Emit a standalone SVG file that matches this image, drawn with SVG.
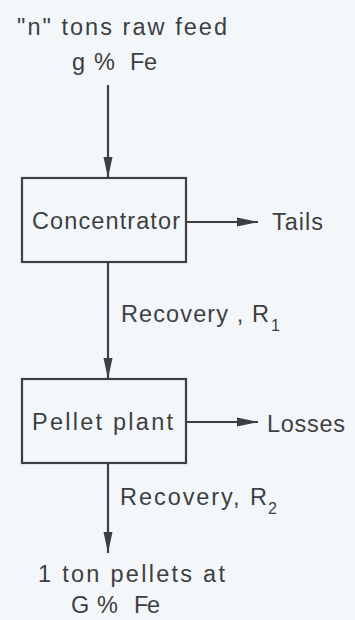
<svg xmlns="http://www.w3.org/2000/svg" width="355" height="620" viewBox="0 0 355 620">
<style>
text{font-family:"Liberation Sans",Arial,sans-serif;font-size:23.5px;fill:#3d3f42}
.box{fill:none;stroke:#3d3f42;stroke-width:2.2}
.ln{stroke:#3d3f42;stroke-width:2.2;fill:none}
.sub{font-size:16px}
</style>
<defs>
<marker id="ah" markerUnits="userSpaceOnUse" markerWidth="22" markerHeight="12" refX="21" refY="5.5" orient="auto">
<path d="M0,1 L21,5.5 L0,10 z" fill="#3d3f42"/>
</marker>
</defs>
<rect width="355" height="620" fill="#f4f7f9"/>
<g id="feed">
<text x="17" y="35" textLength="210">"n" tons raw feed</text>
<text x="72" y="70">g</text><text x="94" y="70">%</text><text x="130" y="70" textLength="27">Fe</text>
</g>
<g id="concentrator">
<rect class="box" x="22" y="178" width="164" height="84"/>
<text x="32" y="229" textLength="148">Concentrator</text>
</g>
<g id="tails"><text x="272" y="230" textLength="51">Tails</text></g>
<g id="pellet">
<rect class="box" x="22" y="379" width="164" height="84"/>
<text x="32" y="430" textLength="141">Pellet plant</text>
</g>
<g id="losses"><text x="267" y="432" textLength="78">Losses</text></g>
<g id="product">
<text x="38" y="582" textLength="187">1 ton pellets at</text>
<text x="71" y="613">G</text><text x="97" y="613">%</text><text x="134" y="613" textLength="26">Fe</text>
</g>
<g id="connectors">
<line class="ln" x1="108" y1="85" x2="108" y2="178" marker-end="url(#ah)"/>
<line class="ln" x1="186" y1="222" x2="258" y2="222" marker-end="url(#ah)"/>
<line class="ln" x1="108" y1="262" x2="108" y2="379" marker-end="url(#ah)"/>
<line class="ln" x1="186" y1="422" x2="258" y2="422" marker-end="url(#ah)"/>
<line class="ln" x1="108" y1="463" x2="108" y2="553" marker-end="url(#ah)"/>
<text x="121" y="322" textLength="148">Recovery , R</text><text class="sub" x="271" y="331">1</text>
<text x="120" y="505" textLength="147">Recovery, R</text><text class="sub" x="268" y="514">2</text>
</g>
</svg>
